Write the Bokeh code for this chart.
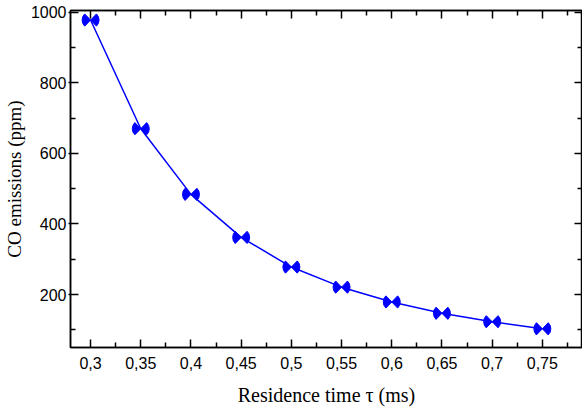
import numpy as np
from bokeh.plotting import figure
from bokeh.models import ColumnDataSource, FixedTicker, LinearAxis, Range1d
from bokeh.embed import file_html
from bokeh.resources import INLINE

# data
tau = [0.30, 0.35, 0.40, 0.45, 0.50, 0.55, 0.60, 0.65, 0.70, 0.75]
co = [978, 670, 484, 362, 278, 221, 179, 147, 123, 103]

x_ticks = [0.30, 0.35, 0.40, 0.45, 0.50, 0.55, 0.60, 0.65, 0.70, 0.75]
x_tick_labels = ["0,3", "0,35", "0,4", "0,45", "0,5", "0,55", "0,6", "0,65", "0,7", "0,75"]
x_minor = [0.325, 0.375, 0.425, 0.475, 0.525, 0.575, 0.625, 0.675, 0.725, 0.775]
y_ticks = [200, 400, 600, 800, 1000]
y_minor = [100, 300, 500, 700, 900]

SANS = "Liberation Sans"
SERIF = "Liberation Serif"

p = figure(width=582, height=408, output_backend="svg", toolbar_location=None,
           x_range=Range1d(0.28, 0.79), y_range=Range1d(50, 1005),
           min_border_left=64, min_border_top=10, min_border_right=0, min_border_bottom=10)
p.grid.visible = False
p.outline_line_color = "black"
p.outline_line_width = 1.5
p.background_fill_color = "white"
p.border_fill_color = "white"

xt = FixedTicker(ticks=x_ticks, minor_ticks=x_minor)
yt = FixedTicker(ticks=y_ticks, minor_ticks=y_minor)

def style(ax):
    ax.axis_line_color = "black"
    ax.axis_line_width = 1.5
    ax.major_tick_in = 8
    ax.major_tick_out = 0
    ax.minor_tick_in = 5
    ax.minor_tick_out = 0
    ax.major_tick_line_width = 1.5
    ax.minor_tick_line_width = 1.5
    ax.major_tick_line_color = "black"
    ax.minor_tick_line_color = "black"
    ax.major_label_text_font = SANS
    ax.major_label_text_font_size = "16px"
    ax.major_label_text_color = "black"
    ax.axis_label_text_font = SERIF
    ax.axis_label_text_font_size = "19px"
    ax.axis_label_text_font_style = "normal"
    ax.axis_label_text_color = "black"

xa = p.xaxis[0]
xa.ticker = xt
xa.major_label_overrides = {t: l for t, l in zip(x_ticks, x_tick_labels)}
style(xa)
xa.major_label_standoff = 9
xa.axis_label = "Residence time τ (ms)"
xa.axis_label_text_font_size = "20px"
xa.axis_label_standoff = 12

ya = p.yaxis[0]
ya.ticker = yt
style(ya)
ya.major_tick_out = 2
ya.major_label_standoff = 2
ya.axis_label = "CO emissions (ppm)"
ya.axis_label_standoff = 3

top = LinearAxis(ticker=xt)
style(top)
top.major_label_overrides = {t: "" for t in x_ticks}
top.major_label_text_font_size = "0px"
top.major_label_standoff = 0
p.add_layout(top, "above")
right = LinearAxis(ticker=yt)
style(right)
right.major_label_overrides = {t: "" for t in y_ticks}
right.major_label_text_font_size = "0px"
right.major_label_standoff = 0
p.add_layout(right, "right")

src = ColumnDataSource(dict(x=tau, y=co))
p.line("x", "y", source=src, line_color="#0000ff", line_width=1.5)
half = np.deg2rad(46)
p.wedge("x", "y", source=src, radius=8.5, radius_units="screen",
        start_angle=-half, end_angle=half,
        fill_color="#0000ff", line_color="#0000ff", line_width=1)
p.wedge("x", "y", source=src, radius=8.5, radius_units="screen",
        start_angle=np.pi - half, end_angle=np.pi + half,
        fill_color="#0000ff", line_color="#0000ff", line_width=1)

open("out.html", "w").write(file_html(p, INLINE))
